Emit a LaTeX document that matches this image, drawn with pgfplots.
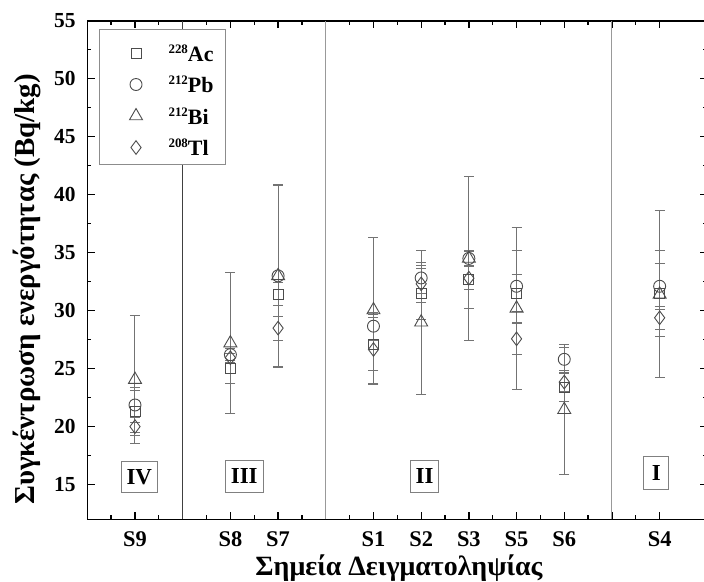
\documentclass[border=0pt]{standalone}
\usepackage{fontspec}
\setmainfont{Liberation Serif}
\usepackage{pgfplots}
\usepackage{pgfplotstable}
\pgfplotsset{compat=1.18}

% x: 1=S9, 3=S8, 4=S7, 6=S1, 7=S2, 8=S3, 9=S5, 10=S6, 12=S4
\pgfplotstableread{
x y e
1 21.3 1.8
3 25.0 1.3
4 31.4 1.0
6 27.1 2.3
7 31.45 2.2
8 32.7 2.5
9 31.5 1.6
10 23.35 1.2
12 31.5 3.7
}\tabAc
\pgfplotstableread{
x y e
1 21.86 1.5
3 26.2 0.5
4 33.0 7.8
6 28.66 1.2
7 32.82 1.35
8 34.5 0.6
9 32.1 3.1
10 25.8 1.0
12 32.1 2.0
}\tabPb
\pgfplotstableread{
x y e
1 24.05 5.5
3 27.2 6.1
4 33.0 7.9
6 30.05 6.3
7 29.0 6.2
8 34.5 7.1
9 30.2 7.0
10 21.45 5.6
12 31.4 7.2
}\tabBi
\pgfplotstableread{
x y e
1 20.0 0.8
3 25.94 0.4
4 28.49 1.03
6 26.65 3.0
7 32.31 1.6
8 32.8 1.0
9 27.57 1.35
10 23.84 0.8
12 29.38 1.0
}\tabTl

\newcommand{\iso}[2]{\raisebox{8bp}{\fontsize{13}{13}\selectfont\bfseries #1}#2}
\pgfplotsset{legend image code/.code={\path (0bp,0bp) (56bp,0bp); \draw[#1] plot coordinates {(24bp,8.3bp)};}}

\begin{document}
\begin{tikzpicture}
\begin{axis}[
  width=620bp, height=498.5bp, scale only axis,
  xmin=0, xmax=13, ymin=12, ymax=55,
  xtick={0,...,12},
  xticklabels={,S9,,S8,S7,,S1,S2,S3,S5,S6,,S4},
  minor x tick num=1,
  ytick={15,20,...,55},
  minor y tick num=1,
  tick align=inside,
  major tick length=7.5bp, minor tick length=4bp,
  axis line style={line width=1.5bp},
  every tick/.style={black, line width=1.3bp},
  tick label style={inner sep=0pt},
  /pgf/number format/assume math mode=true,
  xticklabel style={font=\fontsize{22.5}{24}\selectfont\bfseries, anchor=base, yshift=-26.7bp},
  yticklabel style={font=\fontsize{21.5}{24}\selectfont\bfseries, anchor=east, xshift=-11.5bp},
  xlabel={Σημεία Δειγματοληψίας},
  ylabel={Συγκέντρωση ενεργότητας (Bq/kg)},
  label style={inner sep=0pt},
  xlabel style={font=\fontsize{28}{30}\selectfont\bfseries, at={(rel axis cs:0.5027,-0.1137)}, anchor=base},
  ylabel style={font=\fontsize{29}{30}\selectfont\bfseries, at={(rel axis cs:-0.0844,0.461)}, anchor=base},
  legend style={at={(rel axis cs:0.0189,0.9836)}, anchor=north west,
    draw=black!45, line width=1bp, fill=white,
    inner xsep=12bp, inner ysep=7.85bp, row sep=7bp, column sep=0bp,
    font=\fontsize{22}{24}\selectfont\bfseries,
    nodes={inner sep=0pt, text height=24bp, text depth=0bp, anchor=base west}},
  legend cell align=left,
  clip=false,
]
\addplot[forget plot, black!75, line width=1bp] coordinates {(2,12) (2,55)};
\addplot[forget plot, black!40, line width=1bp] coordinates {(5,12) (5,55)};
\addplot[forget plot, black!40, line width=1bp] coordinates {(11,12) (11,55)};

\addplot[only marks, black!70, mark=square, mark size=5bp, mark options={line width=0.9bp, fill=none},
  error bars/.cd, y dir=both, y explicit,
  error bar style={black!55, line width=1bp},
  error mark options={rotate=90, mark size=5bp, black!55, line width=1bp}]
  table[x=x, y=y, y error=e] {\tabAc};
\addlegendentry{\iso{228}{Ac}}
\addplot[only marks, black!70, mark=o, mark size=6bp, mark options={line width=0.9bp, fill=none},
  error bars/.cd, y dir=both, y explicit,
  error bar style={black!55, line width=1bp},
  error mark options={rotate=90, mark size=5bp, black!55, line width=1bp}]
  table[x=x, y=y, y error=e] {\tabPb};
\addlegendentry{\iso{212}{Pb}}
\addplot[only marks, black!70, mark=triangle, mark size=7.5bp, mark options={line width=0.9bp, fill=none},
  error bars/.cd, y dir=both, y explicit,
  error bar style={black!55, line width=1bp},
  error mark options={rotate=90, mark size=5bp, black!55, line width=1bp}]
  table[x=x, y=y, y error=e] {\tabBi};
\addlegendentry{\iso{212}{Bi}}
\addplot[only marks, black!70, mark=diamond, mark size=6.8bp, mark options={line width=0.9bp, fill=none},
  error bars/.cd, y dir=both, y explicit,
  error bar style={black!55, line width=1bp},
  error mark options={rotate=90, mark size=5bp, black!55, line width=1bp}]
  table[x=x, y=y, y error=e] {\tabTl};
\addlegendentry{\iso{208}{Tl}}

\tikzset{grp/.style={draw=black!50, line width=1bp, fill=white, inner xsep=5.5bp, inner ysep=8.2bp,
  font=\fontsize{23}{24}\selectfont\bfseries}}
\node[grp] at (axis cs:1.09,15.64) {IV};
\node[grp] at (axis cs:3.29,15.7) {III};
\node[grp] at (axis cs:7.07,15.7) {II};
\node[grp, minimum width=25bp, inner ysep=9.2bp] at (axis cs:11.93,16.0) {I};

\coordinate (bbsw) at (rel axis cs:-0.1408,-0.1238);
\coordinate (bbne) at (rel axis cs:0.99462,1.0417);
\end{axis}
\pgfresetboundingbox
\path[use as bounding box] (bbsw) rectangle (bbne);
\end{tikzpicture}
\end{document}
